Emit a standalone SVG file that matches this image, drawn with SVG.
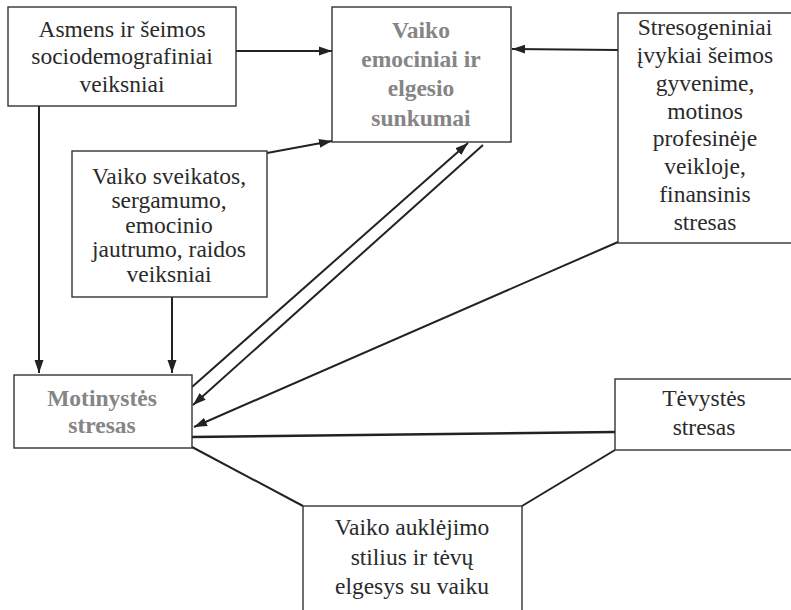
<svg xmlns="http://www.w3.org/2000/svg" width="791" height="610" viewBox="0 0 791 610" font-family="Liberation Serif, DejaVu Serif, serif">
<defs>
<style>
.box{fill:#fff;stroke:#333;stroke-width:1.4}
.t,.b{font-size:23.5px;text-anchor:middle}
.t{fill:#2a2a2a}
.b{font-weight:bold;fill:#858585}
.c{fill:none;stroke:#222;stroke-width:2}
</style>
<marker id="ah" markerUnits="userSpaceOnUse" markerWidth="14" markerHeight="10" refX="13" refY="5" orient="auto">
<path d="M0,0.5 L13,5 L0,9.5 z" fill="#222"/>
</marker>
</defs>
<rect width="791" height="610" fill="#fff"/>
<g id="connectors">
<line class="c" x1="236" y1="51" x2="332" y2="51" marker-end="url(#ah)"/>
<line class="c" x1="618" y1="50" x2="512" y2="49" marker-end="url(#ah)"/>
<line class="c" x1="267" y1="153" x2="332" y2="141" marker-end="url(#ah)"/>
<line class="c" x1="39" y1="106" x2="39" y2="373" marker-end="url(#ah)"/>
<line class="c" x1="172" y1="297" x2="172" y2="373" marker-end="url(#ah)"/>
<line class="c" x1="192" y1="387" x2="468" y2="143" marker-end="url(#ah)"/>
<line class="c" x1="483" y1="145" x2="193" y2="405" marker-end="url(#ah)"/>
<line class="c" x1="618" y1="242" x2="194" y2="427" marker-end="url(#ah)"/>
<line class="c" x1="192" y1="437" x2="615" y2="432" style="stroke-width:2.5"/>
<line class="c" x1="192" y1="447" x2="303" y2="506"/>
<line class="c" x1="615" y1="450" x2="522" y2="506"/>
</g>
<g id="n1">
<rect class="box" x="8" y="7" width="228" height="99"/>
<text class="t" x="122" y="37" font-family="Liberation Serif">Asmens ir šeimos</text>
<text class="t" x="122" y="64">sociodemografiniai</text>
<text class="t" x="122" y="92">veiksniai</text>
</g>
<g id="n2">
<rect class="box" x="332" y="7" width="179" height="135"/>
<text class="b" x="421" y="38">Vaiko</text>
<text class="b" x="421" y="67">emociniai ir</text>
<text class="b" x="421" y="96">elgesio</text>
<text class="b" x="421" y="126">sunkumai</text>
</g>
<g id="n3">
<rect class="box" x="618" y="13" width="176" height="230"/>
<text class="t" x="705" y="35">Stresogeniniai</text>
<text class="t" x="705" y="63">įvykiai šeimos</text>
<text class="t" x="705" y="91">gyvenime,</text>
<text class="t" x="705" y="119">motinos</text>
<text class="t" x="705" y="146">profesinėje</text>
<text class="t" x="705" y="174">veikloje,</text>
<text class="t" x="705" y="202">finansinis</text>
<text class="t" x="705" y="230">stresas</text>
</g>
<g id="n4">
<rect class="box" x="72" y="151" width="195" height="146"/>
<text class="t" x="169" y="184">Vaiko sveikatos,</text>
<text class="t" x="169" y="208">sergamumo,</text>
<text class="t" x="169" y="233">emocinio</text>
<text class="t" x="169" y="257">jautrumo, raidos</text>
<text class="t" x="169" y="282">veiksniai</text>
</g>
<g id="n5">
<rect class="box" x="14" y="375" width="178" height="73"/>
<text class="b" x="102" y="406">Motinystės</text>
<text class="b" x="102" y="433">stresas</text>
</g>
<g id="n6">
<rect class="box" x="615" y="379" width="179" height="71"/>
<text class="t" x="704" y="406">Tėvystės</text>
<text class="t" x="704" y="435">stresas</text>
</g>
<g id="n7">
<rect class="box" x="303" y="506" width="219" height="110"/>
<text class="t" x="412" y="535">Vaiko auklėjimo</text>
<text class="t" x="412" y="565">stilius ir tėvų</text>
<text class="t" x="412" y="594">elgesys su vaiku</text>
</g>
</svg>
